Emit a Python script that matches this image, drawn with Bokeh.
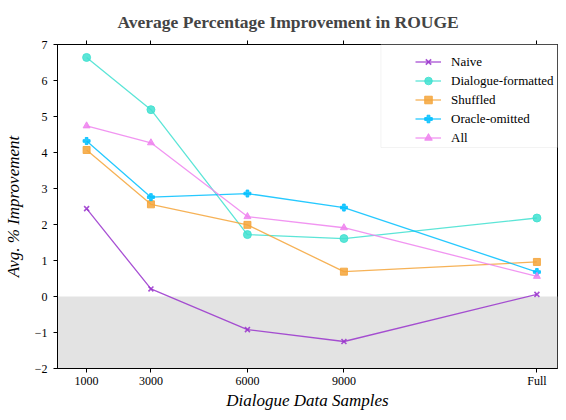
from bokeh.plotting import figure
from bokeh.models import BoxAnnotation, LinearAxis, FixedTicker, Range1d, Legend
from bokeh.embed import file_html
from bokeh.resources import INLINE

# ---- data ----
x_vals = [1000, 3000, 6000, 9000, 15000]
x_tick_labels = ["1000", "3000", "6000", "9000", "Full"]
naive = [2.44, 0.21, -0.92, -1.25, 0.06]
dialogue_formatted = [6.64, 5.19, 1.72, 1.61, 2.18]
shuffled = [4.07, 2.56, 1.99, 0.69, 0.96]
oracle_omitted = [4.32, 2.76, 2.86, 2.47, 0.68]
all_vals = [4.74, 4.27, 2.22, 1.91, 0.56]
y_ticks = [-2, -1, 0, 1, 2, 3, 4, 5, 6, 7]

FONT = "Liberation Serif"

p = figure(width=558, height=412, output_backend="svg", toolbar_location=None,
           x_range=Range1d(95, 15640), y_range=Range1d(-2, 7),
           min_border_left=57, min_border_right=1, min_border_top=0, min_border_bottom=0)

p.title.text = "Average Percentage Improvement in ROUGE"
p.title.text_font = FONT
p.title.text_font_size = "17.5px"
p.title.text_font_style = "bold"
p.title.align = "left"
p.title.offset = 60
p.title.standoff = 18

p.grid.visible = False
p.outline_line_color = "black"
p.outline_line_width = 1
p.background_fill_color = "white"

# axes
p.xaxis.ticker = FixedTicker(ticks=x_vals)
p.xaxis.major_label_overrides = {x: l for x, l in zip(x_vals, x_tick_labels)}
p.yaxis.ticker = FixedTicker(ticks=y_ticks)
p.yaxis.major_label_overrides = {t: (str(t).replace("-", "\u2212")) for t in y_ticks}
for ax in (p.xaxis[0], p.yaxis[0]):
    ax.axis_line_color = "black"
    ax.major_tick_line_color = "black"
    ax.major_tick_out = 4
    ax.major_tick_in = 0
    ax.minor_tick_line_color = None
    ax.major_label_text_font = FONT
    ax.major_label_text_font_size = "12px"
    ax.major_label_text_color = "black"
    ax.axis_label_text_font = FONT
    ax.axis_label_text_font_size = "17px"
    ax.axis_label_text_font_style = "italic"
    ax.axis_label_text_color = "black"
p.xaxis.axis_label = "Dialogue Data Samples"
p.yaxis.axis_label = "Avg. % Improvement"
p.xaxis.major_label_standoff = 1
p.xaxis.axis_label_standoff = 0
p.yaxis.major_label_standoff = 6
p.yaxis.axis_label_standoff = 9

top_ax = LinearAxis(ticker=FixedTicker(ticks=x_vals),
                    major_label_overrides={x: "" for x in x_vals},
                    major_label_standoff=0, major_tick_out=4, major_tick_in=0,
                    minor_tick_line_color=None, axis_line_color="black")
p.add_layout(top_ax, "above")

# shaded negative region
p.add_layout(BoxAnnotation(top=0, fill_color="#e3e3e3", fill_alpha=1.0, line_color=None, level="underlay"))

# legend backdrop box
p.add_layout(BoxAnnotation(left=10150, top=7, bottom=4.14, fill_color="white", fill_alpha=0.8,
                           line_color="#d4d4d4", line_width=1, level="overlay"))

series = [
    ("Naive", naive, "darkorchid", "x"),
    ("Dialogue-formatted", dialogue_formatted, "turquoise", "circle"),
    ("Shuffled", shuffled, "#f5a43a", "square"),
    ("Oracle-omitted", oracle_omitted, "deepskyblue", "plus"),
    ("All", all_vals, "violet", "triangle"),
]
sizes = {"x": 7, "circle": 8, "square": 7, "plus": 7, "triangle": 7}

items = []
for name, ys, color, marker in series:
    r1 = p.line(x_vals, ys, line_color=color, line_width=1.3, line_alpha=0.85)
    kw = dict(size=sizes[marker], fill_color=color, line_color=color, fill_alpha=0.85, line_alpha=0.85)
    if marker == "x":
        kw["line_width"] = 1.6
    r2 = p.scatter(x_vals, ys, marker=marker, **kw)
    items.append((name, [r1, r2]))

legend = Legend(items=items, location=(352, 215), orientation="vertical")
legend.label_text_font = FONT
legend.label_text_font_size = "13px"
legend.label_text_color = "black"
legend.label_height = 19
legend.glyph_height = 19
legend.glyph_width = 26
legend.label_standoff = 10
legend.spacing = 0
legend.padding = 6
legend.margin = 0
legend.border_line_alpha = 0
legend.background_fill_alpha = 0
p.add_layout(legend, "center")

open("out.html", "w").write(file_html(p, INLINE))
